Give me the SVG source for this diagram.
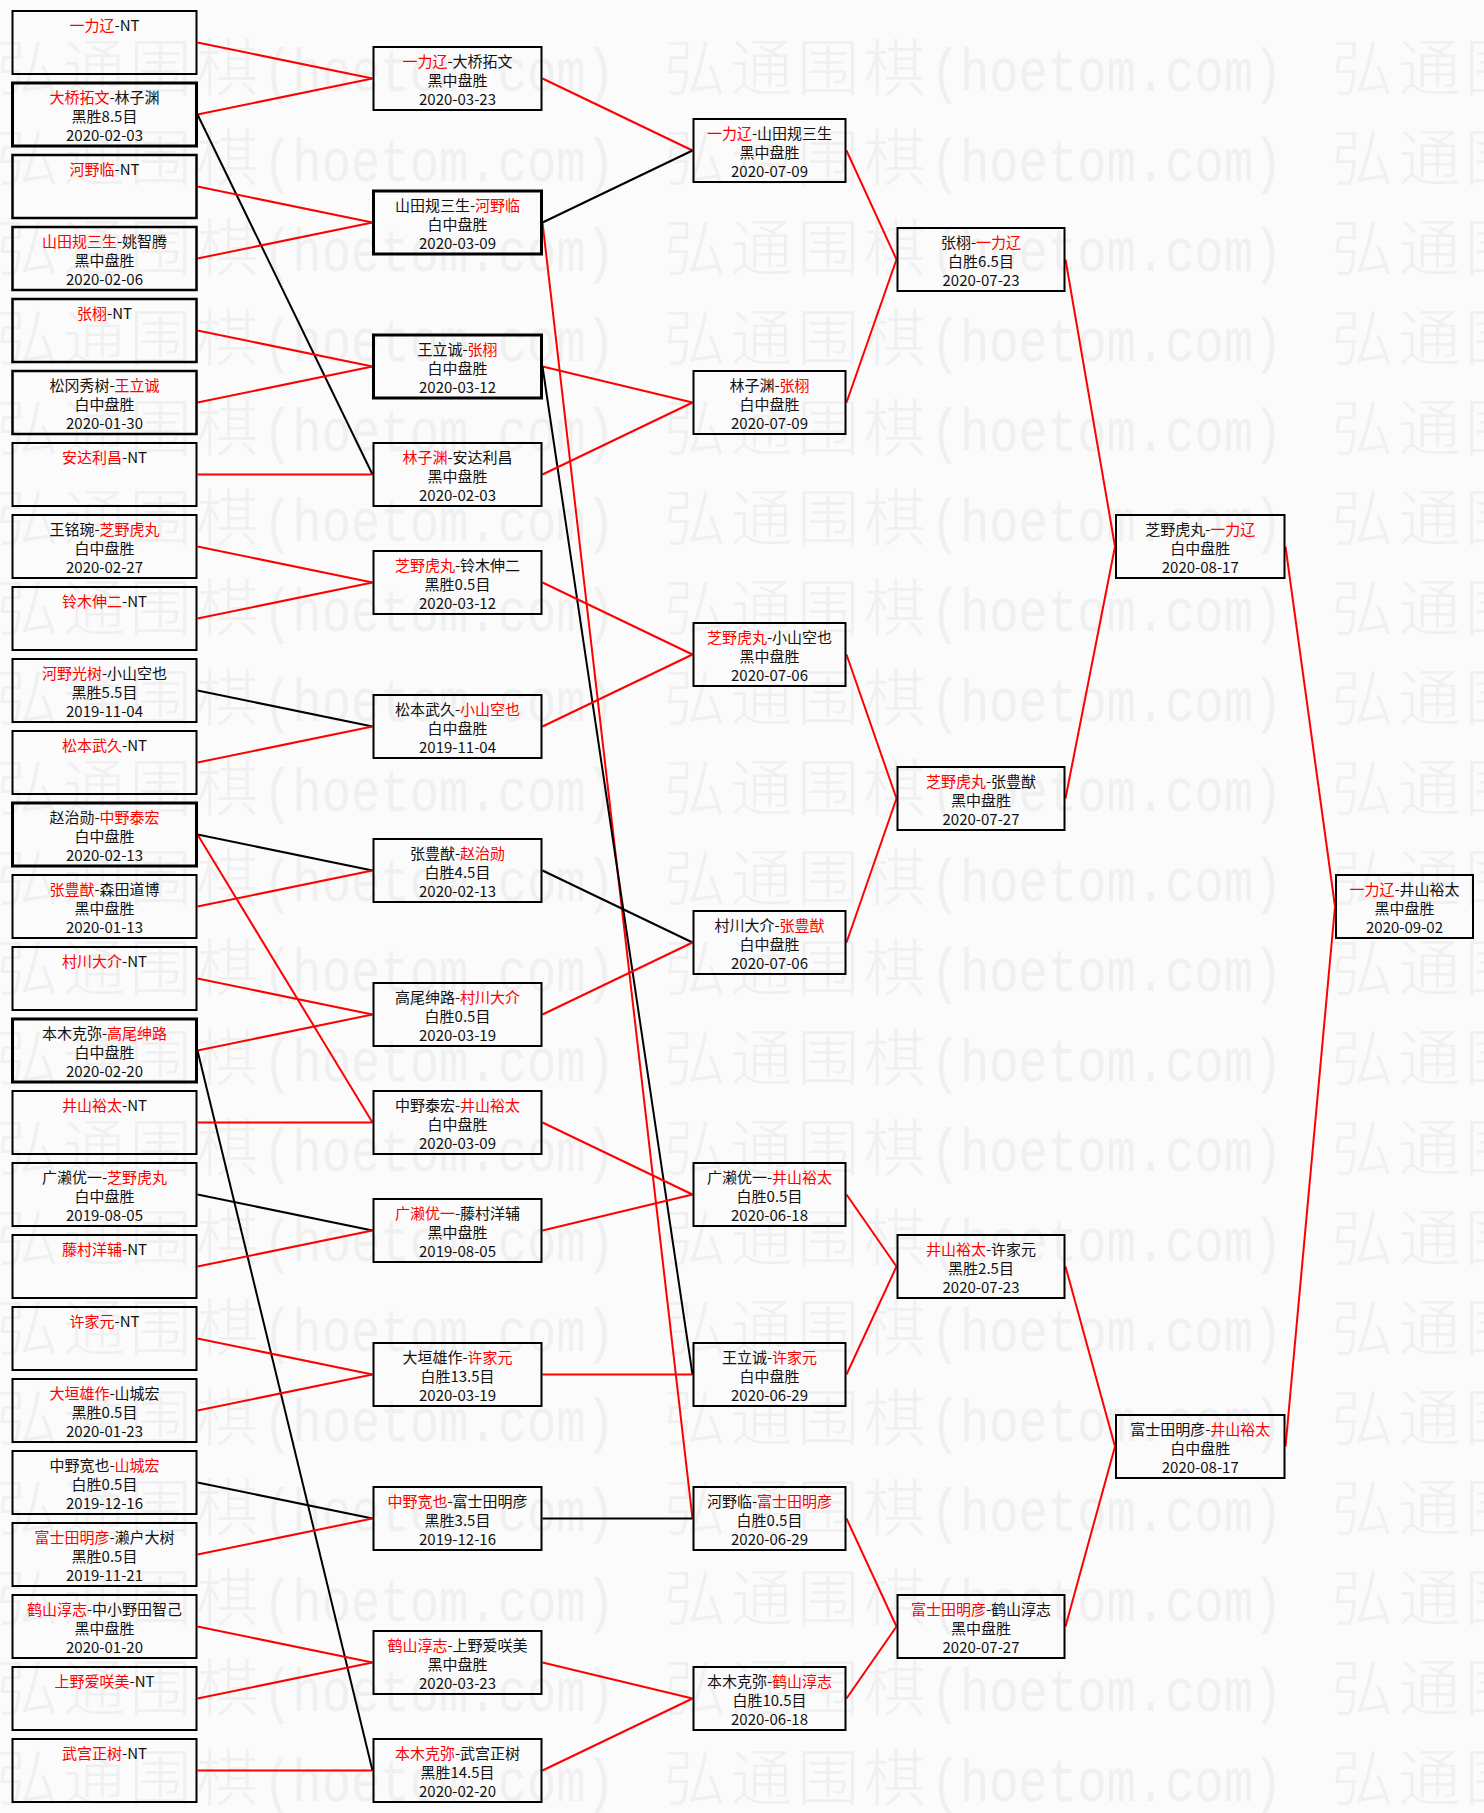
<svg xmlns="http://www.w3.org/2000/svg" xmlns:xlink="http://www.w3.org/1999/xlink" width="1484" height="1813" viewBox="0 0 1484 1813">
<style>
.bg{fill:#fbfbfb}
.wm{font-family:"Noto Sans CJK SC","Noto Sans",sans-serif;font-size:62px;font-weight:300;letter-spacing:4.6px;fill:#f0f0f0}
.wml{font-family:"Liberation Mono","Noto Sans CJK SC",monospace;font-size:62px;fill:#f0f0f0}
.b{fill:none;stroke:#000;stroke-width:2}
.bm{fill:none;stroke:#000;stroke-width:2.5}
.bt{fill:none;stroke:#000;stroke-width:3}
.t{font-family:"Noto Sans CJK SC","Noto Sans",sans-serif;font-size:15px;fill:#111;text-anchor:middle}
.w{fill:#f00}
.r{stroke:#f00;stroke-width:2;fill:none}
.k{stroke:#000;stroke-width:2;fill:none}
</style>
<defs>
<g id="wmu"><text x="0" y="0" class="wm">弘通围棋</text><text x="266.6" y="0" class="wml" textLength="352" lengthAdjust="spacingAndGlyphs">(hoetom.com)</text></g>
<g id="wmr"><use href="#wmu" x="-3.6"/><use href="#wmu" x="664"/><use href="#wmu" x="1331.6"/></g>
</defs>
<rect class="bg" x="0" y="0" width="1484" height="1813"/>
<g id="watermark">
<use href="#wmr" y="91"/><use href="#wmr" y="181"/><use href="#wmr" y="271"/><use href="#wmr" y="361"/><use href="#wmr" y="451"/>
<use href="#wmr" y="541"/><use href="#wmr" y="631"/><use href="#wmr" y="721"/><use href="#wmr" y="811"/><use href="#wmr" y="901"/>
<use href="#wmr" y="991"/><use href="#wmr" y="1081"/><use href="#wmr" y="1171"/><use href="#wmr" y="1261"/><use href="#wmr" y="1351"/>
<use href="#wmr" y="1441"/><use href="#wmr" y="1531"/><use href="#wmr" y="1621"/><use href="#wmr" y="1711"/><use href="#wmr" y="1801"/>
</g>
<g id="connectors">
<line class="r" x1="197.5" y1="42.5" x2="372.5" y2="78.5"/>
<line class="r" x1="197.5" y1="114.5" x2="372.5" y2="78.5"/>
<line class="k" x1="197.5" y1="114.5" x2="372.5" y2="474.5"/>
<line class="r" x1="197.5" y1="186.5" x2="372.5" y2="222.5"/>
<line class="r" x1="197.5" y1="258.5" x2="372.5" y2="222.5"/>
<line class="r" x1="197.5" y1="330.5" x2="372.5" y2="366.5"/>
<line class="r" x1="197.5" y1="402.5" x2="372.5" y2="366.5"/>
<line class="r" x1="197.5" y1="474.5" x2="372.5" y2="474.5"/>
<line class="r" x1="197.5" y1="546.5" x2="372.5" y2="582.5"/>
<line class="r" x1="197.5" y1="618.5" x2="372.5" y2="582.5"/>
<line class="k" x1="197.5" y1="690.5" x2="372.5" y2="726.5"/>
<line class="r" x1="197.5" y1="762.5" x2="372.5" y2="726.5"/>
<line class="k" x1="197.5" y1="834.5" x2="372.5" y2="870.5"/>
<line class="r" x1="197.5" y1="834.5" x2="372.5" y2="1122.5"/>
<line class="r" x1="197.5" y1="906.5" x2="372.5" y2="870.5"/>
<line class="r" x1="197.5" y1="978.5" x2="372.5" y2="1014.5"/>
<line class="r" x1="197.5" y1="1050.5" x2="372.5" y2="1014.5"/>
<line class="k" x1="197.5" y1="1050.5" x2="372.5" y2="1770.5"/>
<line class="r" x1="197.5" y1="1122.5" x2="372.5" y2="1122.5"/>
<line class="k" x1="197.5" y1="1194.5" x2="372.5" y2="1230.5"/>
<line class="r" x1="197.5" y1="1266.5" x2="372.5" y2="1230.5"/>
<line class="r" x1="197.5" y1="1338.5" x2="372.5" y2="1374.5"/>
<line class="r" x1="197.5" y1="1410.5" x2="372.5" y2="1374.5"/>
<line class="k" x1="197.5" y1="1482.5" x2="372.5" y2="1518.5"/>
<line class="r" x1="197.5" y1="1554.5" x2="372.5" y2="1518.5"/>
<line class="r" x1="197.5" y1="1626.5" x2="372.5" y2="1662.5"/>
<line class="r" x1="197.5" y1="1698.5" x2="372.5" y2="1662.5"/>
<line class="r" x1="197.5" y1="1770.5" x2="372.5" y2="1770.5"/>
<line class="r" x1="542.5" y1="78.5" x2="692.5" y2="150.5"/>
<line class="k" x1="542.5" y1="222.5" x2="692.5" y2="150.5"/>
<line class="r" x1="542.5" y1="222.5" x2="692.5" y2="1518.5"/>
<line class="r" x1="542.5" y1="366.5" x2="692.5" y2="402.5"/>
<line class="k" x1="542.5" y1="366.5" x2="692.5" y2="1374.5"/>
<line class="r" x1="542.5" y1="474.5" x2="692.5" y2="402.5"/>
<line class="r" x1="542.5" y1="582.5" x2="692.5" y2="654.5"/>
<line class="r" x1="542.5" y1="726.5" x2="692.5" y2="654.5"/>
<line class="k" x1="542.5" y1="870.5" x2="692.5" y2="942.5"/>
<line class="r" x1="542.5" y1="1014.5" x2="692.5" y2="942.5"/>
<line class="r" x1="542.5" y1="1122.5" x2="692.5" y2="1194.5"/>
<line class="r" x1="542.5" y1="1230.5" x2="692.5" y2="1194.5"/>
<line class="r" x1="542.5" y1="1374.5" x2="692.5" y2="1374.5"/>
<line class="k" x1="542.5" y1="1518.5" x2="692.5" y2="1518.5"/>
<line class="r" x1="542.5" y1="1662.5" x2="692.5" y2="1698.5"/>
<line class="r" x1="542.5" y1="1770.5" x2="692.5" y2="1698.5"/>
<line class="r" x1="846.5" y1="150.5" x2="896.5" y2="259.5"/>
<line class="r" x1="846.5" y1="402.5" x2="896.5" y2="259.5"/>
<line class="r" x1="846.5" y1="654.5" x2="896.5" y2="798.5"/>
<line class="r" x1="846.5" y1="942.5" x2="896.5" y2="798.5"/>
<line class="r" x1="846.5" y1="1194.5" x2="896.5" y2="1266.5"/>
<line class="r" x1="846.5" y1="1374.5" x2="896.5" y2="1266.5"/>
<line class="r" x1="846.5" y1="1518.5" x2="896.5" y2="1626.5"/>
<line class="r" x1="846.5" y1="1698.5" x2="896.5" y2="1626.5"/>
<line class="r" x1="1065.5" y1="259.5" x2="1115" y2="546.5"/>
<line class="r" x1="1065.5" y1="798.5" x2="1115" y2="546.5"/>
<line class="r" x1="1065.5" y1="1266.5" x2="1115" y2="1446.5"/>
<line class="r" x1="1065.5" y1="1626.5" x2="1115" y2="1446.5"/>
<line class="r" x1="1285.5" y1="546.5" x2="1335" y2="906.5"/>
<line class="r" x1="1285.5" y1="1446.5" x2="1335" y2="906.5"/>
</g>
<g id="nodes">
<!-- round 1 -->
<g id="r1_00"><rect class="b" x="12.5" y="11" width="184" height="63"/><text class="t" x="104.5" y="31"><tspan class="w">一力辽</tspan>-NT</text></g>
<g id="r1_01"><rect class="bt" x="12.5" y="83" width="184" height="63"/><text class="t" x="104.5" y="103"><tspan class="w">大桥拓文</tspan>-林子渊</text><text class="t" x="104.5" y="122">黑胜8.5目</text><text class="t" x="104.5" y="140.5">2020-02-03</text></g>
<g id="r1_02"><rect class="bm" x="12.5" y="155" width="184" height="63"/><text class="t" x="104.5" y="175"><tspan class="w">河野临</tspan>-NT</text></g>
<g id="r1_03"><rect class="bm" x="12.5" y="227" width="184" height="63"/><text class="t" x="104.5" y="247"><tspan class="w">山田规三生</tspan>-姚智腾</text><text class="t" x="104.5" y="266">黑中盘胜</text><text class="t" x="104.5" y="284.5">2020-02-06</text></g>
<g id="r1_04"><rect class="bm" x="12.5" y="299" width="184" height="63"/><text class="t" x="104.5" y="319"><tspan class="w">张栩</tspan>-NT</text></g>
<g id="r1_05"><rect class="bm" x="12.5" y="371" width="184" height="63"/><text class="t" x="104.5" y="391">松冈秀树-<tspan class="w">王立诚</tspan></text><text class="t" x="104.5" y="410">白中盘胜</text><text class="t" x="104.5" y="428.5">2020-01-30</text></g>
<g id="r1_06"><rect class="b" x="12.5" y="443" width="184" height="63"/><text class="t" x="104.5" y="463"><tspan class="w">安达利昌</tspan>-NT</text></g>
<g id="r1_07"><rect class="b" x="12.5" y="515" width="184" height="63"/><text class="t" x="104.5" y="535">王铭琬-<tspan class="w">芝野虎丸</tspan></text><text class="t" x="104.5" y="554">白中盘胜</text><text class="t" x="104.5" y="572.5">2020-02-27</text></g>
<g id="r1_08"><rect class="b" x="12.5" y="587" width="184" height="63"/><text class="t" x="104.5" y="607"><tspan class="w">铃木伸二</tspan>-NT</text></g>
<g id="r1_09"><rect class="b" x="12.5" y="659" width="184" height="63"/><text class="t" x="104.5" y="679"><tspan class="w">河野光树</tspan>-小山空也</text><text class="t" x="104.5" y="698">黑胜5.5目</text><text class="t" x="104.5" y="716.5">2019-11-04</text></g>
<g id="r1_10"><rect class="b" x="12.5" y="731" width="184" height="63"/><text class="t" x="104.5" y="751"><tspan class="w">松本武久</tspan>-NT</text></g>
<g id="r1_11"><rect class="bt" x="12.5" y="803" width="184" height="63"/><text class="t" x="104.5" y="823">赵治勋-<tspan class="w">中野泰宏</tspan></text><text class="t" x="104.5" y="842">白中盘胜</text><text class="t" x="104.5" y="860.5">2020-02-13</text></g>
<g id="r1_12"><rect class="b" x="12.5" y="875" width="184" height="63"/><text class="t" x="104.5" y="895"><tspan class="w">张豊猷</tspan>-森田道博</text><text class="t" x="104.5" y="914">黑中盘胜</text><text class="t" x="104.5" y="932.5">2020-01-13</text></g>
<g id="r1_13"><rect class="b" x="12.5" y="947" width="184" height="63"/><text class="t" x="104.5" y="967"><tspan class="w">村川大介</tspan>-NT</text></g>
<g id="r1_14"><rect class="bt" x="12.5" y="1019" width="184" height="63"/><text class="t" x="104.5" y="1039">本木克弥-<tspan class="w">高尾绅路</tspan></text><text class="t" x="104.5" y="1058">白中盘胜</text><text class="t" x="104.5" y="1076.5">2020-02-20</text></g>
<g id="r1_15"><rect class="b" x="12.5" y="1091" width="184" height="63"/><text class="t" x="104.5" y="1111"><tspan class="w">井山裕太</tspan>-NT</text></g>
<g id="r1_16"><rect class="b" x="12.5" y="1163" width="184" height="63"/><text class="t" x="104.5" y="1183">广濑优一-<tspan class="w">芝野虎丸</tspan></text><text class="t" x="104.5" y="1202">白中盘胜</text><text class="t" x="104.5" y="1220.5">2019-08-05</text></g>
<g id="r1_17"><rect class="b" x="12.5" y="1235" width="184" height="63"/><text class="t" x="104.5" y="1255"><tspan class="w">藤村洋辅</tspan>-NT</text></g>
<g id="r1_18"><rect class="b" x="12.5" y="1307" width="184" height="63"/><text class="t" x="104.5" y="1327"><tspan class="w">许家元</tspan>-NT</text></g>
<g id="r1_19"><rect class="b" x="12.5" y="1379" width="184" height="63"/><text class="t" x="104.5" y="1399"><tspan class="w">大垣雄作</tspan>-山城宏</text><text class="t" x="104.5" y="1418">黑胜0.5目</text><text class="t" x="104.5" y="1436.5">2020-01-23</text></g>
<g id="r1_20"><rect class="b" x="12.5" y="1451" width="184" height="63"/><text class="t" x="104.5" y="1471">中野宽也-<tspan class="w">山城宏</tspan></text><text class="t" x="104.5" y="1490">白胜0.5目</text><text class="t" x="104.5" y="1508.5">2019-12-16</text></g>
<g id="r1_21"><rect class="b" x="12.5" y="1523" width="184" height="63"/><text class="t" x="104.5" y="1543"><tspan class="w">富士田明彦</tspan>-濑户大树</text><text class="t" x="104.5" y="1562">黑胜0.5目</text><text class="t" x="104.5" y="1580.5">2019-11-21</text></g>
<g id="r1_22"><rect class="b" x="12.5" y="1595" width="184" height="63"/><text class="t" x="104.5" y="1615"><tspan class="w">鹤山淳志</tspan>-中小野田智己</text><text class="t" x="104.5" y="1634">黑中盘胜</text><text class="t" x="104.5" y="1652.5">2020-01-20</text></g>
<g id="r1_23"><rect class="b" x="12.5" y="1667" width="184" height="63"/><text class="t" x="104.5" y="1687"><tspan class="w">上野爱咲美</tspan>-NT</text></g>
<g id="r1_24"><rect class="b" x="12.5" y="1739" width="184" height="63"/><text class="t" x="104.5" y="1759"><tspan class="w">武宫正树</tspan>-NT</text></g>
<!-- round 2 -->
<g id="r2_A"><rect class="b" x="373.5" y="47" width="168" height="63"/><text class="t" x="457.5" y="67"><tspan class="w">一力辽</tspan>-大桥拓文</text><text class="t" x="457.5" y="86">黑中盘胜</text><text class="t" x="457.5" y="104.5">2020-03-23</text></g>
<g id="r2_B"><rect class="bt" x="373.5" y="191" width="168" height="63"/><text class="t" x="457.5" y="211">山田规三生-<tspan class="w">河野临</tspan></text><text class="t" x="457.5" y="230">白中盘胜</text><text class="t" x="457.5" y="248.5">2020-03-09</text></g>
<g id="r2_C"><rect class="bt" x="373.5" y="335" width="168" height="63"/><text class="t" x="457.5" y="355">王立诚-<tspan class="w">张栩</tspan></text><text class="t" x="457.5" y="374">白中盘胜</text><text class="t" x="457.5" y="392.5">2020-03-12</text></g>
<g id="r2_D"><rect class="b" x="373.5" y="443" width="168" height="63"/><text class="t" x="457.5" y="463"><tspan class="w">林子渊</tspan>-安达利昌</text><text class="t" x="457.5" y="482">黑中盘胜</text><text class="t" x="457.5" y="500.5">2020-02-03</text></g>
<g id="r2_E"><rect class="b" x="373.5" y="551" width="168" height="63"/><text class="t" x="457.5" y="571"><tspan class="w">芝野虎丸</tspan>-铃木伸二</text><text class="t" x="457.5" y="590">黑胜0.5目</text><text class="t" x="457.5" y="608.5">2020-03-12</text></g>
<g id="r2_F"><rect class="b" x="373.5" y="695" width="168" height="63"/><text class="t" x="457.5" y="715">松本武久-<tspan class="w">小山空也</tspan></text><text class="t" x="457.5" y="734">白中盘胜</text><text class="t" x="457.5" y="752.5">2019-11-04</text></g>
<g id="r2_G"><rect class="b" x="373.5" y="839" width="168" height="63"/><text class="t" x="457.5" y="859">张豊猷-<tspan class="w">赵治勋</tspan></text><text class="t" x="457.5" y="878">白胜4.5目</text><text class="t" x="457.5" y="896.5">2020-02-13</text></g>
<g id="r2_H"><rect class="b" x="373.5" y="983" width="168" height="63"/><text class="t" x="457.5" y="1003">高尾绅路-<tspan class="w">村川大介</tspan></text><text class="t" x="457.5" y="1022">白胜0.5目</text><text class="t" x="457.5" y="1040.5">2020-03-19</text></g>
<g id="r2_I"><rect class="b" x="373.5" y="1091" width="168" height="63"/><text class="t" x="457.5" y="1111">中野泰宏-<tspan class="w">井山裕太</tspan></text><text class="t" x="457.5" y="1130">白中盘胜</text><text class="t" x="457.5" y="1148.5">2020-03-09</text></g>
<g id="r2_J"><rect class="b" x="373.5" y="1199" width="168" height="63"/><text class="t" x="457.5" y="1219"><tspan class="w">广濑优一</tspan>-藤村洋辅</text><text class="t" x="457.5" y="1238">黑中盘胜</text><text class="t" x="457.5" y="1256.5">2019-08-05</text></g>
<g id="r2_K"><rect class="b" x="373.5" y="1343" width="168" height="63"/><text class="t" x="457.5" y="1363">大垣雄作-<tspan class="w">许家元</tspan></text><text class="t" x="457.5" y="1382">白胜13.5目</text><text class="t" x="457.5" y="1400.5">2020-03-19</text></g>
<g id="r2_L"><rect class="b" x="373.5" y="1487" width="168" height="63"/><text class="t" x="457.5" y="1507"><tspan class="w">中野宽也</tspan>-富士田明彦</text><text class="t" x="457.5" y="1526">黑胜3.5目</text><text class="t" x="457.5" y="1544.5">2019-12-16</text></g>
<g id="r2_M"><rect class="b" x="373.5" y="1631" width="168" height="63"/><text class="t" x="457.5" y="1651"><tspan class="w">鹤山淳志</tspan>-上野爱咲美</text><text class="t" x="457.5" y="1670">黑中盘胜</text><text class="t" x="457.5" y="1688.5">2020-03-23</text></g>
<g id="r2_N"><rect class="b" x="373.5" y="1739" width="168" height="63"/><text class="t" x="457.5" y="1759"><tspan class="w">本木克弥</tspan>-武宫正树</text><text class="t" x="457.5" y="1778">黑胜14.5目</text><text class="t" x="457.5" y="1796.5">2020-02-20</text></g>
<!-- round 3 -->
<g id="r3_a"><rect class="b" x="693.5" y="119" width="152" height="63"/><text class="t" x="769.5" y="139"><tspan class="w">一力辽</tspan>-山田规三生</text><text class="t" x="769.5" y="158">黑中盘胜</text><text class="t" x="769.5" y="176.5">2020-07-09</text></g>
<g id="r3_b"><rect class="b" x="693.5" y="371" width="152" height="63"/><text class="t" x="769.5" y="391">林子渊-<tspan class="w">张栩</tspan></text><text class="t" x="769.5" y="410">白中盘胜</text><text class="t" x="769.5" y="428.5">2020-07-09</text></g>
<g id="r3_c"><rect class="b" x="693.5" y="623" width="152" height="63"/><text class="t" x="769.5" y="643"><tspan class="w">芝野虎丸</tspan>-小山空也</text><text class="t" x="769.5" y="662">黑中盘胜</text><text class="t" x="769.5" y="680.5">2020-07-06</text></g>
<g id="r3_d"><rect class="b" x="693.5" y="911" width="152" height="63"/><text class="t" x="769.5" y="931">村川大介-<tspan class="w">张豊猷</tspan></text><text class="t" x="769.5" y="950">白中盘胜</text><text class="t" x="769.5" y="968.5">2020-07-06</text></g>
<g id="r3_e"><rect class="b" x="693.5" y="1163" width="152" height="63"/><text class="t" x="769.5" y="1183">广濑优一-<tspan class="w">井山裕太</tspan></text><text class="t" x="769.5" y="1202">白胜0.5目</text><text class="t" x="769.5" y="1220.5">2020-06-18</text></g>
<g id="r3_f"><rect class="b" x="693.5" y="1343" width="152" height="63"/><text class="t" x="769.5" y="1363">王立诚-<tspan class="w">许家元</tspan></text><text class="t" x="769.5" y="1382">白中盘胜</text><text class="t" x="769.5" y="1400.5">2020-06-29</text></g>
<g id="r3_g"><rect class="b" x="693.5" y="1487" width="152" height="63"/><text class="t" x="769.5" y="1507">河野临-<tspan class="w">富士田明彦</tspan></text><text class="t" x="769.5" y="1526">白胜0.5目</text><text class="t" x="769.5" y="1544.5">2020-06-29</text></g>
<g id="r3_h"><rect class="b" x="693.5" y="1667" width="152" height="63"/><text class="t" x="769.5" y="1687">本木克弥-<tspan class="w">鹤山淳志</tspan></text><text class="t" x="769.5" y="1706">白胜10.5目</text><text class="t" x="769.5" y="1724.5">2020-06-18</text></g>
<!-- round 4 -->
<g id="r4_i"><rect class="b" x="897.5" y="228" width="167" height="63"/><text class="t" x="981" y="248">张栩-<tspan class="w">一力辽</tspan></text><text class="t" x="981" y="267">白胜6.5目</text><text class="t" x="981" y="285.5">2020-07-23</text></g>
<g id="r4_j"><rect class="b" x="897.5" y="767" width="167" height="63"/><text class="t" x="981" y="787"><tspan class="w">芝野虎丸</tspan>-张豊猷</text><text class="t" x="981" y="806">黑中盘胜</text><text class="t" x="981" y="824.5">2020-07-27</text></g>
<g id="r4_k"><rect class="b" x="897.5" y="1235" width="167" height="63"/><text class="t" x="981" y="1255"><tspan class="w">井山裕太</tspan>-许家元</text><text class="t" x="981" y="1274">黑胜2.5目</text><text class="t" x="981" y="1292.5">2020-07-23</text></g>
<g id="r4_l"><rect class="b" x="897.5" y="1595" width="167" height="63"/><text class="t" x="981" y="1615"><tspan class="w">富士田明彦</tspan>-鹤山淳志</text><text class="t" x="981" y="1634">黑中盘胜</text><text class="t" x="981" y="1652.5">2020-07-27</text></g>
<!-- round 5 -->
<g id="r5_m"><rect class="b" x="1116" y="515" width="168.5" height="63"/><text class="t" x="1200.25" y="535">芝野虎丸-<tspan class="w">一力辽</tspan></text><text class="t" x="1200.25" y="554">白中盘胜</text><text class="t" x="1200.25" y="572.5">2020-08-17</text></g>
<g id="r5_n"><rect class="b" x="1116" y="1415" width="168.5" height="63"/><text class="t" x="1200.25" y="1435">富士田明彦-<tspan class="w">井山裕太</tspan></text><text class="t" x="1200.25" y="1454">白中盘胜</text><text class="t" x="1200.25" y="1472.5">2020-08-17</text></g>
<!-- final -->
<g id="r6_o"><rect class="b" x="1336" y="875" width="137" height="63"/><text class="t" x="1404.5" y="895"><tspan class="w">一力辽</tspan>-井山裕太</text><text class="t" x="1404.5" y="914">黑中盘胜</text><text class="t" x="1404.5" y="932.5">2020-09-02</text></g>
</g>
</svg>
